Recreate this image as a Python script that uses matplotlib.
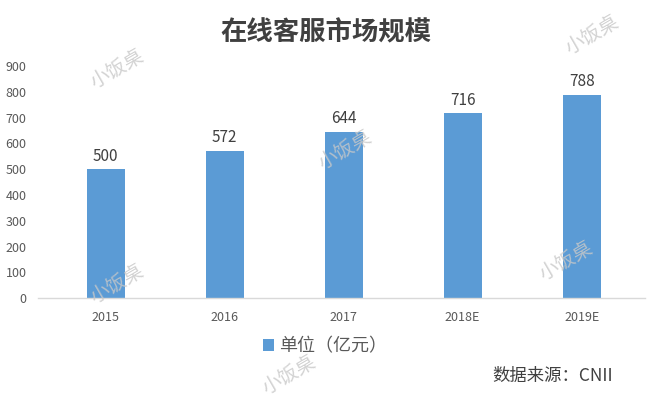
import matplotlib
matplotlib.use("Agg")
import matplotlib.pyplot as plt

plt.rcParams['font.family'] = ['Noto Sans CJK SC', 'DejaVu Sans']

categories = ["2015", "2016", "2017", "2018E", "2019E"]
values = [500, 572, 644, 716, 788]
yticks = [0, 100, 200, 300, 400, 500, 600, 700, 800, 900]
title = "在线客服市场规模"
legend_label = "单位（亿元）"
source = "数据来源：CNII"
watermark = "小饭桌"

fig = plt.figure(figsize=(6.5, 4.05), dpi=100)
ax = fig.add_axes([0.058, 0.264, 0.934, 0.573])

bar_color = "#5B9BD5"
text_color = "#595959"
x = list(range(len(categories)))
bars = ax.bar(x, values, width=0.32, color=bar_color, label=legend_label, zorder=2)
for xi, v in zip(x, values):
    ax.text(xi, v + 18, str(v), ha="center", va="bottom", fontsize=11, color="#404040")

ax.set_xlim(-0.57, 4.53)
ax.set_ylim(0, 900)
ax.set_yticks(yticks)
ax.set_xticks(x)
ax.set_xticklabels(categories)
ax.tick_params(axis="both", length=0, colors=text_color, labelsize=9)
ax.tick_params(axis="x", pad=9)
ax.tick_params(axis="y", pad=8)
for s in ["top", "right", "left"]:
    ax.spines[s].set_visible(False)
ax.spines["bottom"].set_color("#D9D9D9")
ax.spines["bottom"].set_linewidth(1)

fig.text(0.502, 0.918, title, ha="center", va="center", fontsize=19, fontweight="bold", color="#404040")

fig.legend(handles=[bars], labels=[legend_label], loc="center", bbox_to_anchor=(0.5, 0.145),
           frameon=False, fontsize=13, handlelength=0.6, handleheight=0.6, handletextpad=0.3,
           labelcolor=text_color)

fig.text(0.943, 0.072, source, ha="right", va="center", fontsize=12.5, color="#404040")

for (wx, wy) in [(0.18, 0.83), (0.91, 0.915), (0.53, 0.63), (0.18, 0.3), (0.87, 0.355), (0.445, 0.075)]:
    fig.text(wx, wy, watermark, ha="center", va="center", fontsize=14, color="#C8C8C8",
             rotation=30, alpha=0.8, zorder=5)

fig.savefig("out.png", dpi=100)
